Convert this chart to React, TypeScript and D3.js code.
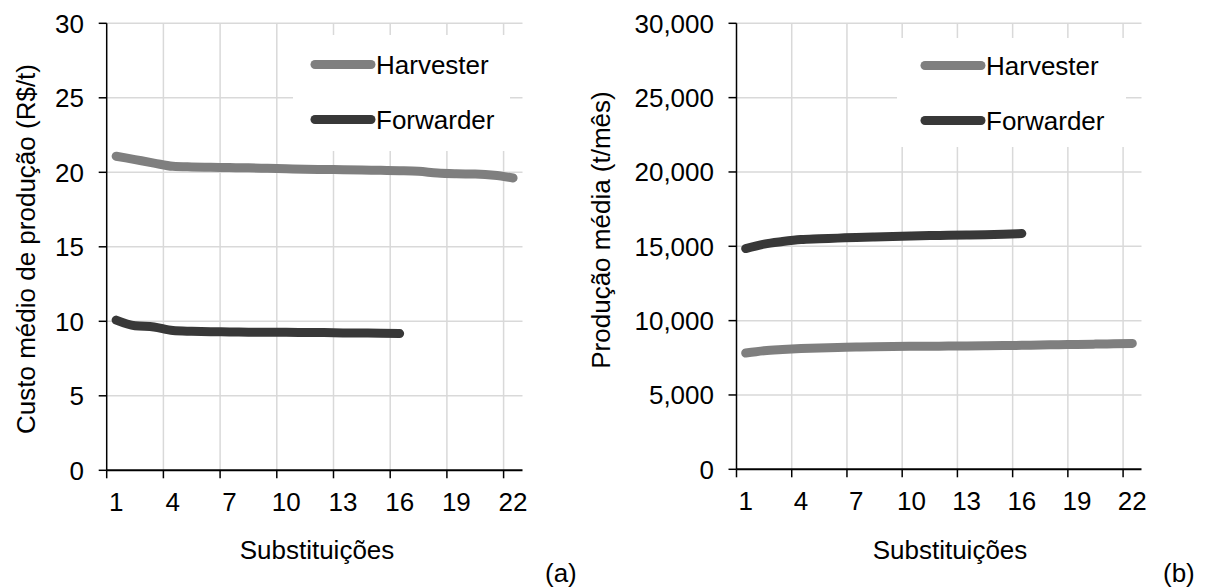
import React from "react";
import * as d3 from "d3";

// substitutions (category axis)
const substituicoes = [1, 2, 3, 4, 5, 6, 7, 8, 9, 10, 11, 12, 13, 14, 15, 16, 17, 18, 19, 20, 21, 22];
const xTickLabels = [1, 4, 7, 10, 13, 16, 19, 22];

// (a) custo médio de produção, R$/t
const custoHarvester = [21.08, 20.85, 20.62, 20.4, 20.36, 20.34, 20.32, 20.3, 20.27, 20.24, 20.21, 20.19, 20.17, 20.15, 20.13, 20.11, 20.07, 19.95, 19.9, 19.88, 19.8, 19.62];
const custoForwarder = [10.08, 9.7, 9.62, 9.38, 9.33, 9.3, 9.29, 9.27, 9.26, 9.26, 9.25, 9.24, 9.22, 9.21, 9.2, 9.18];
const custoTicks = [0, 5, 10, 15, 20, 25, 30];

// (b) produção média, t/mês
const prodHarvester = [7820, 7980, 8060, 8120, 8160, 8190, 8220, 8240, 8260, 8270, 8280, 8290, 8300, 8310, 8320, 8340, 8360, 8380, 8400, 8420, 8440, 8470];
const prodForwarder = [14850, 15150, 15320, 15450, 15500, 15550, 15600, 15630, 15660, 15690, 15720, 15740, 15760, 15780, 15810, 15860];
const prodTicks = [0, 5000, 10000, 15000, 20000, 25000, 30000];

const seriesNames = ["Harvester", "Forwarder"];
const seriesColors = ["#7f7f7f", "#383838"];

const FONT = "'Liberation Sans', Arial, sans-serif";

type PanelProps = {
  x0: number;
  x1: number;
  yTop: number;
  yBottom: number;
  ticks: number[];
  fmt: (v: number) => string;
  series: number[][];
  yTitle: string;
  yTitleX: number;
  yTitleY: number;
  xTitleX: number;
  tickLabelX: number;
  legend: { x: number; y: number; w: number; h: number; lx: number; ly: number };
  letter: string;
  letterX: number;
};

function Panel(p: PanelProps) {
  const x = d3
    .scaleBand<number>()
    .domain(substituicoes)
    .range([p.x0, p.x1])
    .paddingInner(0)
    .paddingOuter(0);
  const bw = x.bandwidth();
  const y = d3
    .scaleLinear()
    .domain([p.ticks[0], p.ticks[p.ticks.length - 1]])
    .range([p.yBottom, p.yTop]);

  const line = d3
    .line<number>()
    .x((d, i) => (x(substituicoes[i]) as number) + bw / 2)
    .y((d) => y(d))
    .curve(d3.curveMonotoneX);

  return (
    <g fontFamily={FONT} fill="#000">
      {/* horizontal grid */}
      {p.ticks.slice(1).map((t) => (
        <line key={"h" + t} x1={p.x0} x2={p.x1} y1={y(t)} y2={y(t)} stroke="#d9d9d9" strokeWidth={1.5} />
      ))}
      {/* vertical grid at category boundaries */}
      {xTickLabels.slice(1).map((c) => (
        <line key={"v" + c} x1={x(c)} x2={x(c)} y1={p.yTop} y2={p.yBottom} stroke="#d9d9d9" strokeWidth={1.5} />
      ))}
      {/* legend box */}
      <rect x={p.legend.x} y={p.legend.y} width={p.legend.w} height={p.legend.h} fill="#fff" />
      {seriesNames.map((name, i) => (
        <g key={name}>
          <line
            x1={p.legend.lx}
            x2={p.legend.lx + 56}
            y1={p.legend.ly + i * 55}
            y2={p.legend.ly + i * 55}
            stroke={seriesColors[i]}
            strokeWidth={9}
            strokeLinecap="round"
          />
          <text x={p.legend.lx + 61} y={p.legend.ly + i * 55 + 9.5} fontSize={26}>
            {name}
          </text>
        </g>
      ))}
      {/* axes */}
      <line x1={p.x0} x2={p.x0} y1={p.yTop} y2={p.yBottom} stroke="#000" strokeWidth={1.5} />
      <line x1={p.x0} x2={p.x1} y1={p.yBottom} y2={p.yBottom} stroke="#000" strokeWidth={2} />
      {p.ticks.map((t) => (
        <g key={"yt" + t}>
          <line x1={p.x0 - 8} x2={p.x0} y1={y(t)} y2={y(t)} stroke="#000" strokeWidth={1.5} />
          <text x={p.tickLabelX} y={y(t)} dy="0.36em" textAnchor="end" fontSize={26}>
            {p.fmt(t)}
          </text>
        </g>
      ))}
      {xTickLabels.map((c) => (
        <g key={"xt" + c}>
          <line x1={x(c)} x2={x(c)} y1={p.yBottom} y2={p.yBottom + 8} stroke="#000" strokeWidth={1.5} />
          <text x={(x(c) as number) + bw / 2} y={p.yBottom + 40.5} textAnchor="middle" fontSize={26}>
            {c}
          </text>
        </g>
      ))}
      {/* data lines */}
      {p.series.map((s, i) => (
        <path
          key={"s" + i}
          d={line(s) || ""}
          fill="none"
          stroke={seriesColors[i]}
          strokeWidth={9}
          strokeLinecap="round"
          strokeLinejoin="round"
        />
      ))}
      {/* titles */}
      <text
        transform={`translate(${p.yTitleX},${p.yTitleY}) rotate(-90)`}
        textAnchor="middle"
        fontSize={26}
      >
        {p.yTitle}
      </text>
      <text x={p.xTitleX} y={559} textAnchor="middle" fontSize={26}>
        Substituições
      </text>
      <text x={p.letterX} y={582} fontSize={26}>
        {p.letter}
      </text>
    </g>
  );
}

export default function App() {
  const fmtComma = d3.format(",");
  return (
    <svg
      width={1210}
      height={588}
      style={{ position: "absolute", left: 0, top: 0, background: "#fff" }}
    >
      <rect width={1210} height={588} fill="#fff" />
      <Panel
        x0={106.7}
        x1={522.5}
        yTop={23.3}
        yBottom={470.3}
        ticks={custoTicks}
        fmt={(v) => String(v)}
        series={[custoHarvester, custoForwarder]}
        yTitle="Custo médio de produção (R$/t)"
        yTitleX={35}
        yTitleY={249}
        xTitleX={317}
        tickLabelX={84}
        legend={{ x: 293, y: 35, w: 217, h: 116, lx: 315, ly: 64.5 }}
        letter="(a)"
        letterX={545}
      />
      <Panel
        x0={736.5}
        x1={1141.5}
        yTop={23.3}
        yBottom={469.3}
        ticks={prodTicks}
        fmt={(v) => fmtComma(v)}
        series={[prodHarvester, prodForwarder]}
        yTitle="Produção média (t/mês)"
        yTitleX={610}
        yTitleY={230}
        xTitleX={950}
        tickLabelX={714}
        legend={{ x: 897, y: 38, w: 229, h: 109, lx: 925, ly: 65.5 }}
        letter="(b)"
        letterX={1163}
      />
    </svg>
  );
}
